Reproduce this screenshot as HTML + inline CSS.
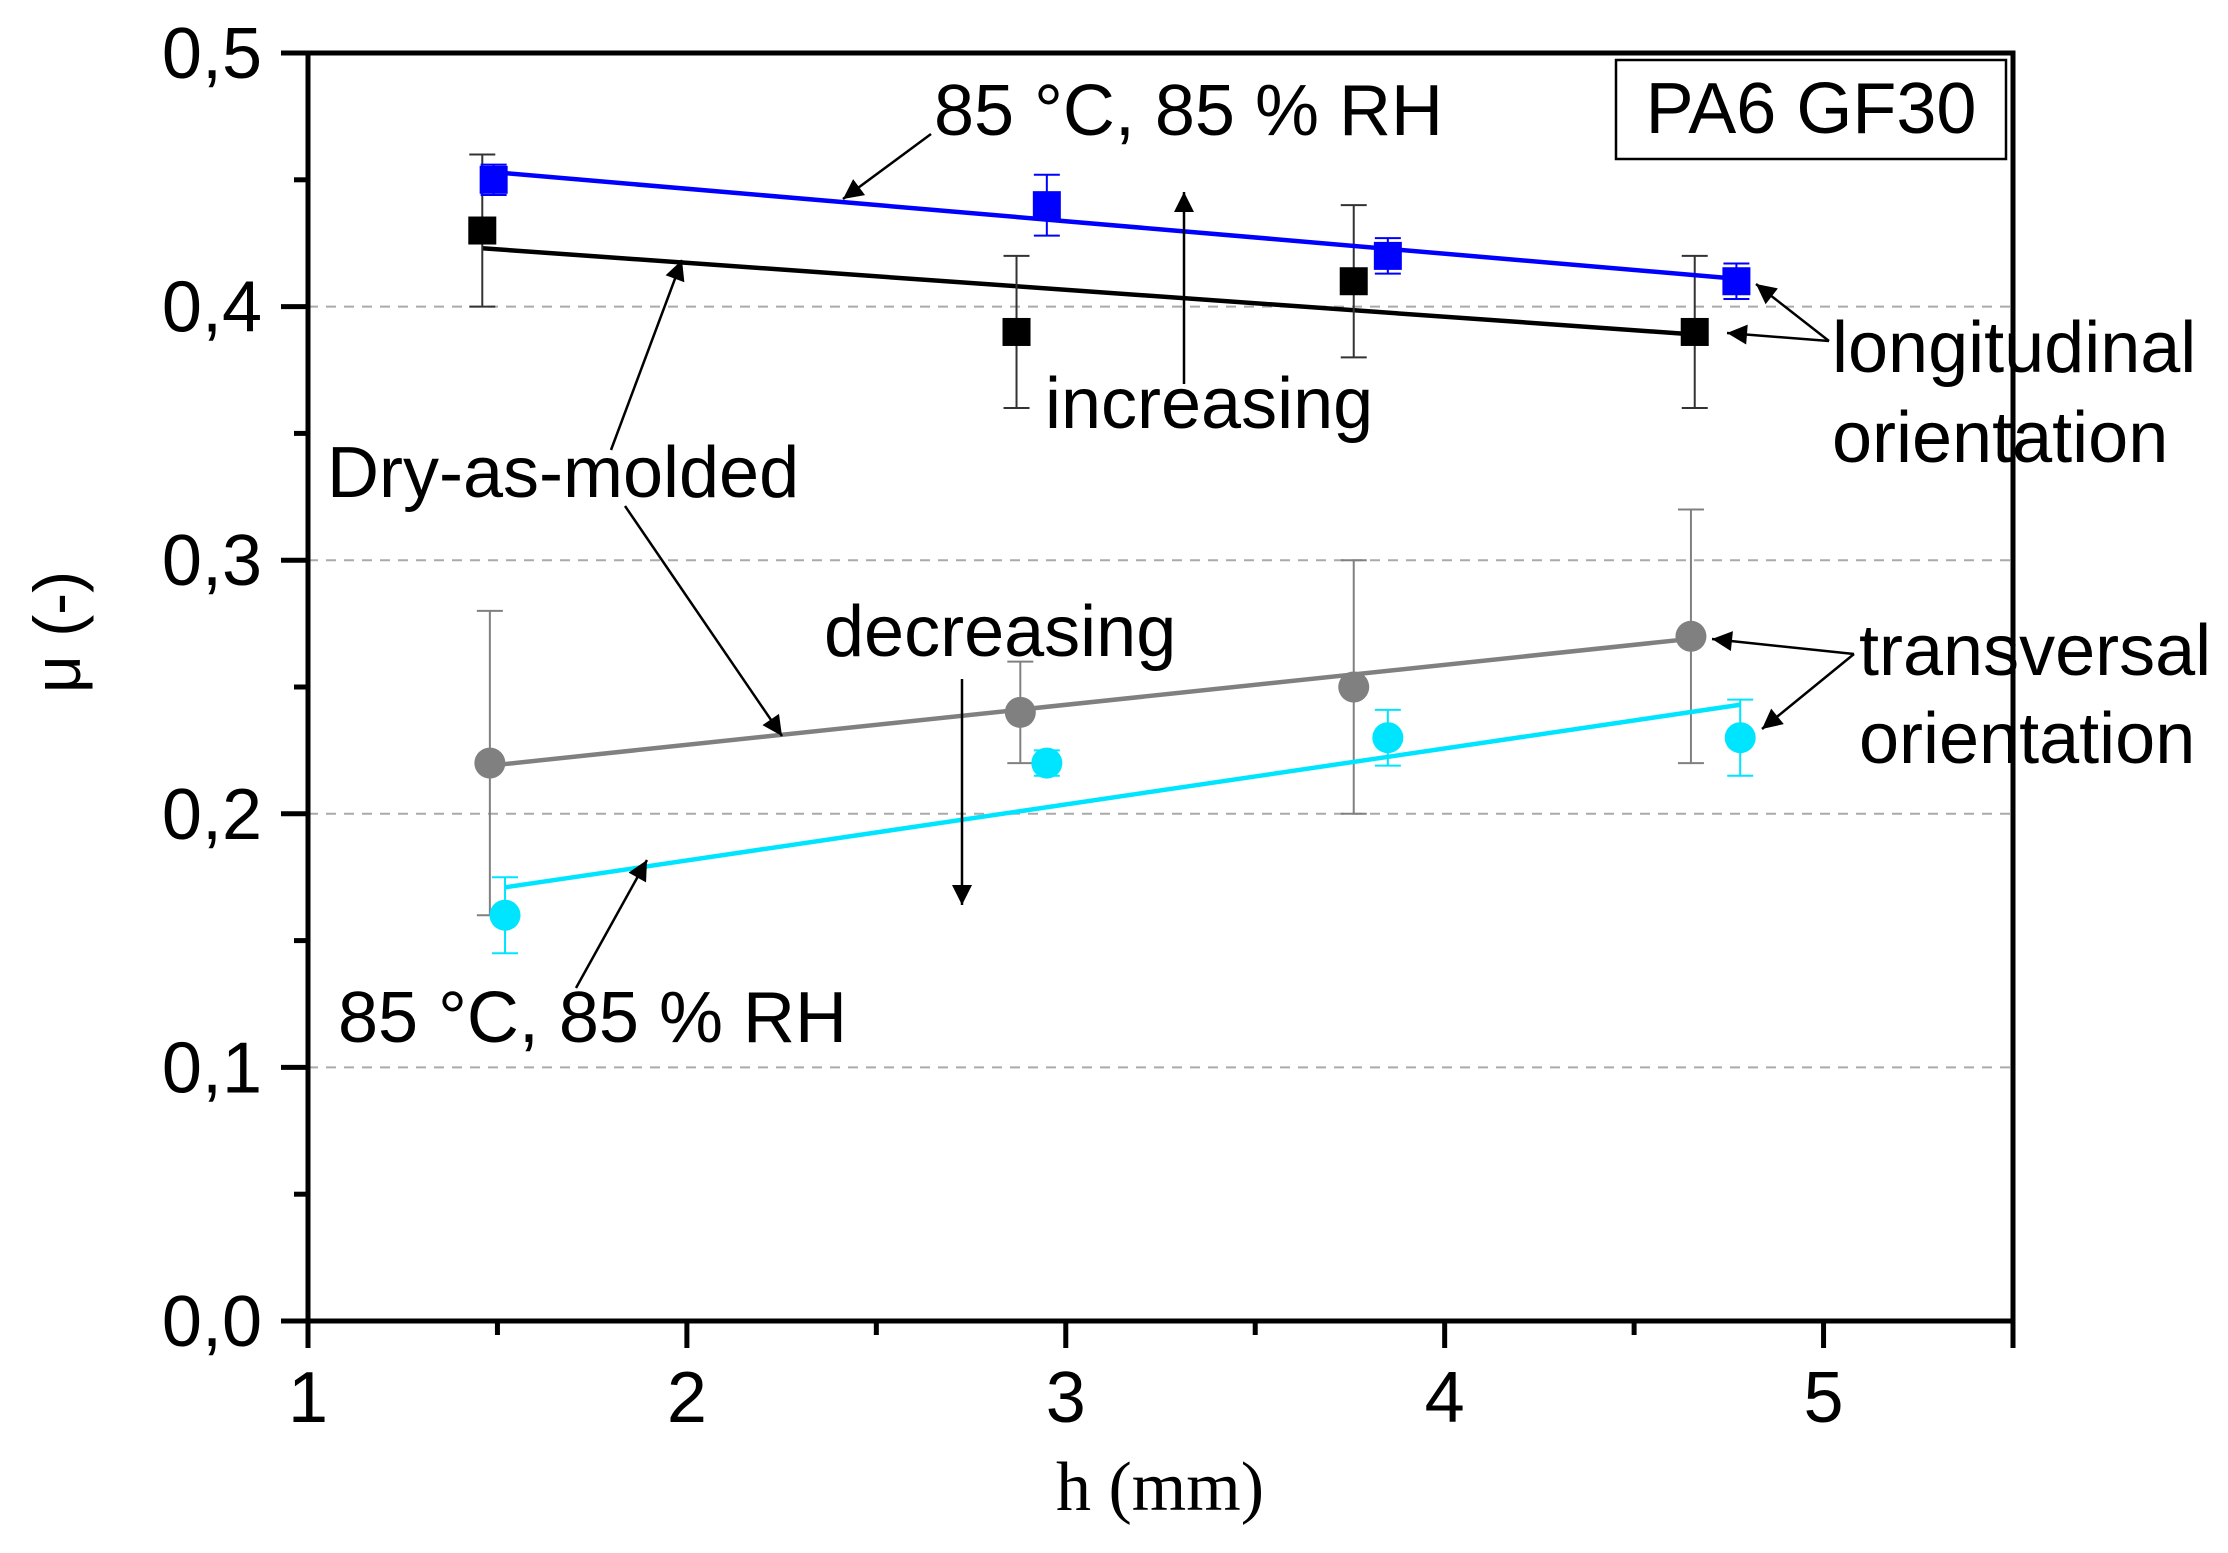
<!DOCTYPE html>
<html><head><meta charset="utf-8"><style>
html,body{margin:0;padding:0;background:#fff;}
svg{display:block;font-family:"Liberation Sans",Arial,sans-serif;}
</style></head><body>
<svg id="chart" width="2228" height="1553" viewBox="0 0 2228 1553" xmlns="http://www.w3.org/2000/svg">
<defs>
<marker id="ah" viewBox="0 0 10 10" refX="10" refY="5" markerWidth="30" markerHeight="20" markerUnits="userSpaceOnUse" orient="auto"><path d="M0,0 L10,5 L0,10 z" fill="#000"/></marker>
</defs>
<g id="grid"></g>
<g id="axes"></g>
<g id="series"></g>
<g id="annot" font-size="72" fill="#000">
<rect x="1616" y="60" width="390" height="99" fill="#fff" stroke="#000" stroke-width="2.5"/>
<text x="1811" y="133" text-anchor="middle">PA6 GF30</text>
<text x="934" y="135">85 °C, 85 % RH</text>
<text x="1045" y="428">increasing</text>
<text x="1832" y="372">longitudinal</text>
<text x="1832" y="462">orientation</text>
<text x="327" y="497">Dry-as-molded</text>
<text x="824" y="656">decreasing</text>
<text x="1859" y="675">transversal</text>
<text x="1859" y="763">orientation</text>
<text x="338" y="1042">85 °C, 85 % RH</text>
<g stroke="#000" stroke-width="2.5" marker-end="url(#ah)">
<line x1="931" y1="134" x2="843" y2="199"/>
<line x1="611" y1="450" x2="682" y2="260"/>
<line x1="625" y1="506" x2="782" y2="736"/>
<line x1="1184" y1="384" x2="1184" y2="192"/>
<line x1="962" y1="679" x2="962" y2="905"/>
<line x1="1829" y1="341" x2="1756" y2="284"/>
<line x1="1829" y1="341" x2="1727" y2="333"/>
<line x1="1854" y1="654" x2="1712" y2="639"/>
<line x1="1854" y1="654" x2="1762" y2="729"/>
<line x1="576" y1="988" x2="647" y2="860"/>
</g>
</g>
</svg>
<script>
const xTicks=[1,2,3,4,5];
const yTicks=[0,0.1,0.2,0.3,0.4,0.5];
const yTickLabels=["0,0","0,1","0,2","0,3","0,4","0,5"];
const gridVals=[0.1,0.2,0.3,0.4];
const blueX=[1.49,2.95,3.85,4.77], blueY=[0.45,0.44,0.42,0.41], blueErr=[0.006,0.012,0.007,0.007];
const blackX=[1.46,2.87,3.76,4.66], blackY=[0.43,0.39,0.41,0.39], blackErr=[0.03,0.03,0.03,0.03];
const grayX=[1.48,2.88,3.76,4.65], grayY=[0.22,0.24,0.25,0.27], grayErr=[0.06,0.02,0.05,0.05];
const cyanX=[1.52,2.95,3.85,4.78], cyanY=[0.16,0.22,0.23,0.23], cyanErr=[0.015,0.005,0.011,0.015];
const blueFit=[0.453,0.411], blackFit=[0.423,0.389], grayFit=[0.219,0.269], cyanFit=[0.171,0.243];

const X0=308,X1=2013,Y0=1321,Y1=53;
const sx=v=>X0+(v-1)/(5.5-1)*(X1-X0);
const sy=v=>Y0-v/0.5*(Y0-Y1);
const NS="http://www.w3.org/2000/svg";
function mk(tag,attrs,parent){const e=document.createElementNS(NS,tag);for(const k in attrs)e.setAttribute(k,attrs[k]);parent.appendChild(e);return e;}
const grid=document.getElementById('grid'),axes=document.getElementById('axes'),ser=document.getElementById('series');
gridVals.forEach(v=>{const l=mk('line',{x1:X0,x2:X1,y1:sy(v),y2:sy(v),stroke:'#aaa','stroke-width':2,'stroke-dasharray':'10 8'},grid);

});
const fr=mk('path',{d:`M${X0-27},${Y1} H${X1} V${Y0+27} M${X1},${Y0} H${X0-27} M${X0},${Y0+27} V${Y1}`,fill:'none',stroke:'#000','stroke-width':5},axes);


yTicks.forEach((v,i)=>{const t=mk('line',{x1:X0-27,x2:X0,y1:sy(v),y2:sy(v),stroke:'#000','stroke-width':5},axes);


const tx=mk('text',{x:262,y:sy(v)+25,'text-anchor':'end','font-size':72},axes);tx.textContent=yTickLabels[i];


if(i<yTicks.length-1){const m=mk('line',{x1:X0-14,x2:X0,y1:sy(v+0.05),y2:sy(v+0.05),stroke:'#000','stroke-width':5},axes);

}});
xTicks.forEach(v=>{const t=mk('line',{x1:sx(v),x2:sx(v),y1:Y0,y2:Y0+27,stroke:'#000','stroke-width':5},axes);


const tx=mk('text',{x:sx(v),y:1422,'text-anchor':'middle','font-size':72},axes);tx.textContent=String(v);


const m=mk('line',{x1:sx(v+0.5),x2:sx(v+0.5),y1:Y0,y2:Y0+14,stroke:'#000','stroke-width':5},axes);

});
const xt=mk('text',{x:1160,y:1510,'text-anchor':'middle','font-size':70,'font-family':'"Liberation Serif",serif'},axes);xt.textContent='h (mm)';


const yt=mk('text',{x:0,y:0,'text-anchor':'middle','font-size':66,transform:'translate(80,632) rotate(-90)'},axes);yt.textContent='μ (-)';



function series(name,xs,ys,es,fit,color,lineColor,shape){
  const g=mk('g',{},ser);
  
  
  const fl=mk('line',{x1:sx(xs[0]),y1:sy(fit[0]),x2:sx(xs[xs.length-1]),y2:sy(fit[1]),stroke:lineColor,'stroke-width':4.5},g);
  
  
  xs.forEach((x,i)=>{const cx=sx(x),cy=sy(ys[i]),e1=sy(ys[i]+es[i]),e2=sy(ys[i]-es[i]);
    const eb=mk('path',{d:`M${cx},${e1} V${e2} M${cx-13},${e1} H${cx+13} M${cx-13},${e2} H${cx+13}`,stroke:lineColor==='#000'?'#333':color,'stroke-width':2,fill:'none'},g);
    
    
    let m;
    if(shape==='sq')m=mk('rect',{x:cx-14,y:cy-14,width:28,height:28,fill:color},g);
    else m=mk('circle',{cx:cx,cy:cy,r:15.5,fill:color},g);
    
    });
}
series('dry-longitudinal',blackX,blackY,blackErr,blackFit,'#000','#000','sq');
series('humid-longitudinal',blueX,blueY,blueErr,blueFit,'#0000ff','#0000ff','sq');
series('dry-transversal',grayX,grayY,grayErr,grayFit,'#808080','#808080','c');
series('humid-transversal',cyanX,cyanY,cyanErr,cyanFit,'#00e5ff','#00e5ff','c');
</script>
</body></html>
